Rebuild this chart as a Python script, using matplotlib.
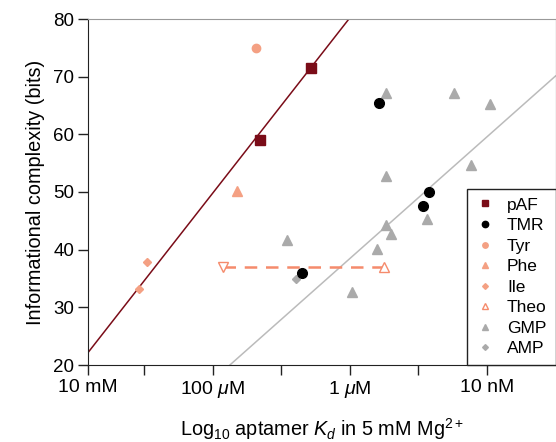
#!/usr/bin/env python
"""Informational complexity vs aptamer Kd."""
import matplotlib
matplotlib.use('Agg')
import matplotlib.pyplot as plt
import numpy as np

plt.rcParams['font.family'] = ['Liberation Sans', 'DejaVu Sans']
plt.rcParams['mathtext.fontset'] = 'custom'
plt.rcParams['mathtext.rm'] = 'Liberation Sans'
plt.rcParams['mathtext.it'] = 'Liberation Sans:italic'

# x = -log10(Kd / M), y = informational complexity (bits)
paf_x = [4.69, 5.43]
paf_y = [59.0, 71.5]
tmr_x = [5.30, 6.42, 7.07, 7.15]
tmr_y = [36.0, 65.4, 47.6, 50.0]
tyr_x = [4.63]
tyr_y = [75.0]
phe_x = [4.35]
phe_y = [50.2]
ile_x = [2.92, 3.04]
ile_y = [33.2, 37.9]
theo_x = [4.15, 6.50]   # range of reported Kd values
theo_y = [37.0, 37.0]
gmp_x = [5.09, 6.03, 6.39, 6.53, 6.60, 6.53, 6.53, 7.12, 7.52, 7.77, 8.04]
gmp_y = [41.7, 32.7, 40.1, 44.3, 42.7, 52.8, 67.2, 45.3, 67.2, 54.7, 65.2]
amp_x = [5.21]
amp_y = [35.0]

# trend lines: y = slope * x + intercept
red_fit = (15.2, 22.3 - 15.2 * 2.19)
gray_fit = (10.55, 20.0 - 10.55 * 4.25)

xlim = (2.18, 9.0)
tick_pos = [2.18, 3, 4, 5, 6, 7, 8]
tick_labels = ['10 mM', '', r'100 $\mu$M', '', r'1 $\mu$M', '', '10 nM']

dark_red = '#7a0c18'
salmon = '#f4a083'
orange = '#f58b6c'
gray = '#aaaaaa'

fig = plt.figure(figsize=(5.56, 4.42), dpi=100)
ax = fig.add_axes([88 / 556, 1 - 365 / 442, 467.5 / 556, 346 / 442])

xs = np.array(xlim)
ax.plot(xs, red_fit[0] * xs + red_fit[1], color=dark_red, lw=1.1, zorder=1)
ax.plot(xs, gray_fit[0] * xs + gray_fit[1], color='#bbbbbb', lw=1.1, zorder=1)
ax.plot(theo_x, theo_y, color=orange, lw=1.8, ls=(0, (5, 3.5)), zorder=1)

ms = 7
ax.plot(paf_x, paf_y, 's', color=dark_red, ms=ms, label='pAF', zorder=3)
ax.plot(tmr_x, tmr_y, 'o', color='black', ms=ms, label='TMR', zorder=3)
ax.plot(tyr_x, tyr_y, 'o', color=salmon, ms=6, label='Tyr', zorder=3)
ax.plot(phe_x, phe_y, '^', color=salmon, ms=ms, label='Phe', zorder=3)
ax.plot(ile_x, ile_y, 'D', color=salmon, ms=4.5, label='Ile', zorder=3)
ax.plot(theo_x[:1], theo_y[:1], 'v', mfc='white', mec=orange, mew=1.0, ms=6.5, zorder=3)
ax.plot(theo_x[1:], theo_y[1:], '^', mfc='white', mec=orange, mew=1.0, ms=6.5, zorder=3)
ax.plot([], [], '^', mfc='white', mec=orange, mew=1.0, ms=6.5, label='Theo')
ax.plot(gmp_x, gmp_y, '^', color=gray, ms=ms, label='GMP', zorder=2)
ax.plot(amp_x, amp_y, 'D', color=gray, ms=4.5, label='AMP', zorder=2)

ax.set_xlim(*xlim)
ax.set_ylim(20, 80)
ax.set_xticks(tick_pos)
ax.set_xticklabels(tick_labels)
ax.set_yticks(range(20, 81, 10))
ax.tick_params(direction='out', length=7, width=1, colors='#222222',
               labelcolor='black', pad=3)
ax.tick_params(axis='x', labelsize=14)
ax.tick_params(axis='y', labelsize=13.5)
for side in ['left', 'bottom', 'right']:
    ax.spines[side].set_color('#222222')
ax.spines['top'].set_color('#999999')

ax.set_xlabel(r'Log$_{10}$ aptamer $K_d$ in 5 mM Mg$^{2+}$', fontsize=14.3, labelpad=12)
ax.set_ylabel('Informational complexity (bits)', fontsize=14.3, labelpad=6)

leg = ax.legend(loc='lower right', bbox_to_anchor=(1.0, 0.0), borderaxespad=0,
                fontsize=12.5, markerscale=0.65, handlelength=1.0, handletextpad=0.8,
                labelspacing=0.31, borderpad=0.5, fancybox=False, framealpha=1)
leg.get_frame().set_edgecolor('#222222')
leg.get_frame().set_linewidth(1.0)

plt.savefig('out.png', dpi=100)
plt.close()
